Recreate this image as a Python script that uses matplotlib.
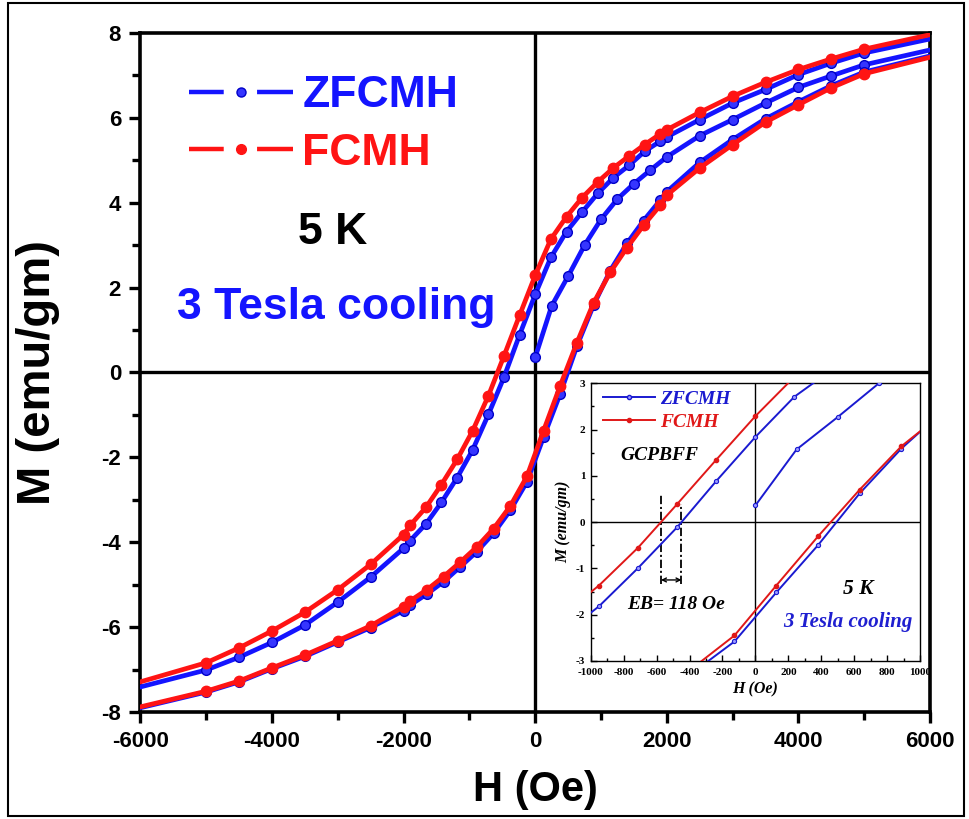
import numpy as np
import matplotlib
matplotlib.use('Agg')
import matplotlib.pyplot as plt
from matplotlib.lines import Line2D
from matplotlib.patches import Rectangle
from matplotlib.ticker import MultipleLocator

plt.rcParams['font.family'] = ['Liberation Sans', 'DejaVu Sans']
plt.rcParams['lines.scale_dashes'] = False
plt.rcParams['axes.unicode_minus'] = False

# descending branch (from +H to -H)
h_dn = [6000, 5000, 4500, 4000, 3500, 3000, 2500, 2000, 1900, 1662, 1425, 1187, 950, 712, 475, 237, 0,
        -237, -475, -712, -950, -1187, -1425, -1662, -1900, -2000, -2500, -3000, -3500, -4000, -4500, -5000, -6000]
m_fc_dn = [7.96, 7.62, 7.39, 7.14, 6.84, 6.51, 6.13, 5.72, 5.62, 5.37, 5.10, 4.82, 4.49, 4.12, 3.67, 3.14, 2.29,
           1.35, 0.39, -0.55, -1.37, -2.05, -2.64, -3.18, -3.60, -3.82, -4.52, -5.12, -5.65, -6.09, -6.49, -6.84, -7.29]
m_zfc_dn = [7.86, 7.53, 7.29, 7.02, 6.67, 6.35, 5.96, 5.55, 5.45, 5.21, 4.88, 4.59, 4.22, 3.78, 3.32, 2.71, 1.84,
            0.89, -0.11, -0.99, -1.82, -2.48, -3.06, -3.57, -3.96, -4.14, -4.82, -5.41, -5.95, -6.36, -6.71, -7.01, -7.41]

# ascending branch (from -H to +H)
h_up = [-6000, -5000, -4500, -4000, -3500, -3000, -2500, -2000, -1900, -1647, -1393, -1140, -887, -633, -380, -127,
        127, 380, 633, 887, 1140, 1393, 1647, 1900, 2000, 2500, 3000, 3500, 4000, 4500, 5000, 6000]
m_fc_up = [-7.88, -7.51, -7.27, -6.96, -6.66, -6.32, -5.97, -5.52, -5.38, -5.12, -4.81, -4.47, -4.11, -3.68, -3.15, -2.45,
           -1.37, -0.31, 0.70, 1.64, 2.36, 2.94, 3.47, 3.94, 4.18, 4.82, 5.37, 5.90, 6.31, 6.71, 7.04, 7.43]
m_zfc_up = [-7.90, -7.53, -7.29, -6.98, -6.69, -6.35, -6.01, -5.61, -5.48, -5.22, -4.93, -4.58, -4.22, -3.79, -3.25, -2.58,
            -1.52, -0.50, 0.62, 1.59, 2.40, 3.04, 3.58, 4.06, 4.26, 4.95, 5.49, 5.98, 6.38, 6.76, 7.08, 7.46]

# ZFC virgin curve
h_vir = [0, 250, 500, 750, 1000, 1250, 1500, 1750, 2000, 2500, 3000, 3500, 4000, 4500, 5000, 6000]
m_vir = [0.36, 1.57, 2.27, 3.00, 3.61, 4.09, 4.45, 4.77, 5.08, 5.58, 5.96, 6.35, 6.72, 6.99, 7.25, 7.60]

blue = '#1414ff'
red = '#ff1414'

fig = plt.figure(figsize=(9.7, 8.19), dpi=100)
ax = fig.add_axes([0.1448, 0.1307, 0.8140, 0.8290])

ax.axhline(0, color='black', lw=2.4, zorder=1)
ax.axvline(0, color='black', lw=2.4, zorder=1)

mk = slice(1, -1)
bstyle = dict(color=blue, lw=3.4, marker='o', ms=7, mfc='#3535ff', mec='#0000c8', mew=1.0, markevery=mk, zorder=3)
rstyle = dict(color=red, lw=3.4, marker='o', ms=7.5, mfc=red, mec=red, markevery=mk, zorder=4)
ax.plot(h_vir, m_vir, **dict(bstyle, markevery=slice(0, -1)))
ax.plot(h_dn, m_zfc_dn, **bstyle)
ax.plot(h_up, m_zfc_up, **bstyle)
ax.plot(h_dn, m_fc_dn, **rstyle)
ax.plot(h_up, m_fc_up, **rstyle)

ax.set_xlim(-6000, 6000)
ax.set_ylim(-8, 8)
ax.xaxis.set_major_locator(MultipleLocator(2000))
ax.xaxis.set_minor_locator(MultipleLocator(1000))
ax.yaxis.set_major_locator(MultipleLocator(2))
ax.yaxis.set_minor_locator(MultipleLocator(1))
ax.tick_params(which='both', direction='out', top=False, right=False, width=2.4)
ax.tick_params(which='major', length=8, labelsize=16, pad=6)
ax.tick_params(which='minor', length=6)
for lab in ax.get_xticklabels() + ax.get_yticklabels():
    lab.set_fontweight('bold')
for s in ax.spines.values():
    s.set_linewidth(2.6)
ax.set_xlabel('H (Oe)', fontsize=30, fontweight='bold', labelpad=13)
ax.set_ylabel('M (emu/gm)', fontsize=34, fontweight='bold', labelpad=30)

# legend
dash = (0, (25, 24, 40))
h1 = Line2D([], [], color=blue, lw=3.2, ls=dash, marker='o', ms=6.5, mfc='#3535ff', mec='#0000c8')
h2 = Line2D([], [], color=red, lw=3.2, ls=dash, marker='o', ms=7, mfc=red, mec=red)
leg = ax.legend([h1, h2], ['ZFCMH', 'FCMH'], loc='upper left', bbox_to_anchor=(0.062, 0.938),
                frameon=False, numpoints=1, handlelength=2.32, handletextpad=0.22, labelspacing=0.37,
                borderpad=0, borderaxespad=0, prop=dict(size=32, weight='bold'))
for t, c in zip(leg.get_texts(), [blue, red]):
    t.set_color(c)

ax.text(-3080, 3.3, '5 K', fontsize=32, fontweight='bold', ha='center', va='center')
ax.text(-3020, 1.53, '3 Tesla cooling', fontsize=32, fontweight='bold', color=blue, ha='center', va='center')

# inset
ax2 = fig.add_axes([0.609, 0.193, 0.3395, 0.339])
ax2.set_facecolor('white')
serif = ['Liberation Serif', 'DejaVu Serif']
ax2.axhline(0, color='black', lw=1.0, zorder=1)
ax2.axvline(0, color='black', lw=1.0, zorder=1)
bs = dict(color='#1a1ad0', lw=1.4, marker='o', ms=3, mfc='#9a9aff', mec='#1a1ad0', mew=0.8, zorder=3)
rs = dict(color='#e01818', lw=1.4, marker='o', ms=3, mfc='#e01818', mec='#e01818', zorder=4)
ax2.plot(h_vir, m_vir, **bs)
ax2.plot(h_dn, m_zfc_dn, **bs)
ax2.plot(h_up, m_zfc_up, **bs)
ax2.plot(h_dn, m_fc_dn, **rs)
ax2.plot(h_up, m_fc_up, **rs)
ax2.set_xlim(-1000, 1000)
ax2.set_ylim(-3, 3)
ax2.xaxis.set_major_locator(MultipleLocator(200))
ax2.xaxis.set_minor_locator(MultipleLocator(100))
ax2.yaxis.set_major_locator(MultipleLocator(1))
ax2.yaxis.set_minor_locator(MultipleLocator(0.5))
ax2.tick_params(which='both', direction='in', top=False, right=False, width=1.0, labelsize=8)
ax2.tick_params(axis='x', pad=5)
ax2.tick_params(axis='y', pad=4)
ax2.tick_params(which='major', length=4)
ax2.tick_params(which='minor', length=2.5)
for lab in ax2.get_xticklabels() + ax2.get_yticklabels():
    lab.set_fontweight('bold')
    lab.set_family(serif)
for s in ax2.spines.values():
    s.set_linewidth(1.0)
ax2.set_xlabel('H (Oe)', fontsize=11.5, fontweight='bold', style='italic', family=serif, labelpad=3)
ax2.set_ylabel('M (emu/gm)', fontsize=11.5, fontweight='bold', style='italic', family=serif, labelpad=3)

# coercive fields on the descending branch, from the data
hc_fc = np.interp(0, m_fc_dn[::-1], h_dn[::-1])
hc_zfc = np.interp(0, m_zfc_dn[::-1], h_dn[::-1])
ax2.vlines([hc_fc, hc_zfc], -1.33, [0.58, 0.40], colors='black', lw=1.3, linestyles=[(0, (6, 2, 1.5, 2))])
ax2.annotate('', xy=(hc_fc, -1.25), xytext=(hc_zfc, -1.25),
             arrowprops=dict(arrowstyle='<->', lw=1.0, color='black', shrinkA=0, shrinkB=0, mutation_scale=7))

sl = Line2D([], [], color='#1a1ad0', lw=1.4, marker='o', ms=3, mfc='#9a9aff', mec='#1a1ad0')
rl = Line2D([], [], color='#e01818', lw=1.4, marker='o', ms=3, mfc='#e01818', mec='#e01818')
leg2 = ax2.legend([sl, rl], ['ZFCMH', 'FCMH'], loc='upper left', bbox_to_anchor=(0.037, 0.975),
                  frameon=False, numpoints=1, handlelength=2.67, handletextpad=0.25, labelspacing=0.3,
                  borderpad=0, borderaxespad=0,
                  prop=dict(family=serif, size=14, weight='bold', style='italic'))
for t, c in zip(leg2.get_texts(), ['#1a1ad0', '#e01818']):
    t.set_color(c)

ax2.text(-581, 1.43, 'GCPBFF', fontsize=14, fontweight='bold', style='italic', family=serif,
         ha='center', va='center')
ax2.text(-480, -1.79, 'EB= 118 Oe', fontsize=14, fontweight='bold', style='italic', family=serif,
         ha='center', va='center')
ax2.text(623, -1.45, '5 K', fontsize=15.5, fontweight='bold', style='italic', family=serif,
         ha='center', va='center')
ax2.text(562, -2.15, '3 Tesla cooling', fontsize=15, fontweight='bold', style='italic', family=serif,
         color='#1f1fd0', ha='center', va='center')

fig.patches.append(Rectangle((0.008, 0.004), 0.986, 0.992, transform=fig.transFigure,
                             fill=False, ec='black', lw=1.5))

fig.savefig('out.png', dpi=100, facecolor='white')
